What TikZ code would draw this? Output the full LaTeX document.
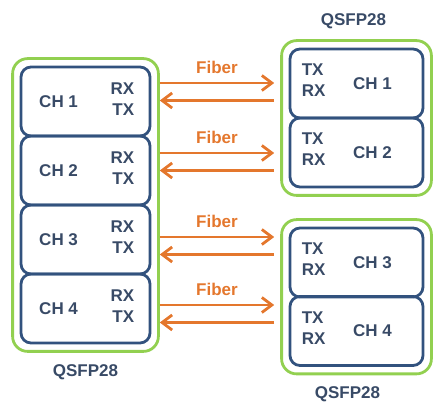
\documentclass[tikz,border=0pt]{standalone}
\usepackage{fontspec}
\setmainfont{Liberation Sans}
\usepackage{tikz}
\usetikzlibrary{arrows.meta,positioning,calc,fit}
\usepackage{xcolor}
\definecolor{qsfpgreen}{RGB}{146,208,80}
\definecolor{chblue}{RGB}{50,82,126}
\definecolor{fiberorange}{RGB}{228,119,45}
\definecolor{labelgray}{RGB}{56,74,102}

\begin{document}
\begin{tikzpicture}[x=1pt, y=-1pt, font=\bfseries\fontsize{17}{21}\selectfont, text=labelgray,
    chbox/.style={draw=chblue, line width=2.8pt, rounded corners=10pt, minimum height=69pt, inner sep=0pt},
    module/.style={draw=qsfpgreen, line width=2.8pt, rounded corners=15pt, inner sep=7pt},
    fiber/.style={draw=fiberorange, line width=2.8pt, -{Straight Barb[length=10pt, width=15pt, line width=2.8pt]}},
    fiberlabel/.style={text=fiberorange, midway, yshift=16pt}]
    \useasboundingbox (0,0) rectangle (445,411);
    % left module, four channels
    \foreach \i/\yy in {1/101.5, 2/170.5, 3/239.5, 4/308.5} {
        \node[chbox, minimum width=129pt] (chL\i) at (85.5,\yy) {};
        \node at ($(chL\i.west)+(39,0)$) {CH \i};
        \node[align=right, anchor=east, inner sep=0pt] at ($(chL\i.east)+(-17,-2.5)$) {RX\\TX};
    }
    \node[module, fit=(chL1)(chL4)] (modL) {};
    \node[below=8pt of modL] (labL) {QSFP28};
    % right modules, two channels each
    \foreach \i/\yy in {1/83.5, 2/152.5, 3/262.5, 4/331} {
        \node[chbox, minimum width=133pt] (chR\i) at (356.5,\yy) {};
        \node at ($(chR\i.center)+(16,0)$) {CH \i};
        \node[align=left, anchor=west, inner sep=0pt] at ($(chR\i.west)+(13,-3)$) {TX\\RX};
    }
    \node[module, fit=(chR1)(chR2)] (modRa) {};
    \node[above=7pt of modRa, xshift=-3pt] (labRa) {QSFP28};
    \node[module, fit=(chR3)(chR4)] (modRb) {};
    \node[below=8pt of modRb, xshift=-9pt] (labRb) {QSFP28};
    % fiber pairs
    \foreach \yy/\mr in {83/modRa, 153/modRa, 237/modRb, 305/modRb} {
        \draw[fiber] (modL.east |- 0,\yy) -- ([xshift=-6pt]\mr.west |- 0,\yy)
            node[fiberlabel] {Fiber};
        \draw[fiber] ([xshift=-6pt]\mr.west |- 0,\yy+17.5) -- (modL.east |- 0,\yy+17.5);
    }
\end{tikzpicture}
\end{document}
